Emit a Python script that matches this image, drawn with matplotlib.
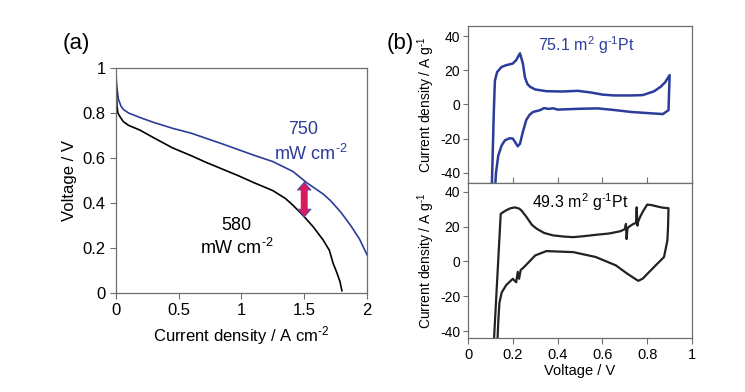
import matplotlib
matplotlib.use('Agg')
import matplotlib.pyplot as plt
import numpy as np

plt.rcParams['font.family'] = ['Liberation Sans', 'DejaVu Sans']
plt.rcParams['axes.unicode_minus'] = False
plt.rcParams['mathtext.fontset'] = 'custom'
plt.rcParams['mathtext.rm'] = 'Liberation Sans'
plt.rcParams['mathtext.default'] = 'regular'

# (a) polarization curves
j_blue = [0, 0.005, 0.01, 0.02, 0.04, 0.06, 0.1, 0.19, 0.3, 0.45, 0.6, 0.72, 0.85,
          0.98, 1.1, 1.25, 1.41, 1.52, 1.65, 1.71, 1.79, 1.87, 1.94, 2.0]
v_blue = [0.97, 0.93, 0.9, 0.86, 0.83, 0.815, 0.80, 0.78, 0.758, 0.732, 0.71, 0.687, 0.662,
          0.636, 0.612, 0.584, 0.54, 0.49, 0.44, 0.41, 0.36, 0.30, 0.24, 0.17]
j_black = [0, 0.004, 0.008, 0.015, 0.03, 0.058, 0.1, 0.19, 0.3, 0.45, 0.6, 0.72, 0.85,
           0.98, 1.1, 1.25, 1.35, 1.41, 1.49, 1.57, 1.65, 1.70, 1.73, 1.76, 1.785, 1.80]
v_black = [0.93, 0.88, 0.83, 0.80, 0.785, 0.762, 0.745, 0.724, 0.69, 0.645, 0.61, 0.58, 0.55,
           0.52, 0.49, 0.455, 0.42, 0.39, 0.345, 0.295, 0.236, 0.19, 0.132, 0.09, 0.05, 0.01]

# (b) cyclic voltammograms, top (blue) and bottom (black)
cv_top_v = [0.105, 0.11, 0.115, 0.12, 0.13, 0.15, 0.17, 0.2, 0.215, 0.232, 0.245, 0.254, 0.265,
            0.277, 0.3, 0.35, 0.42, 0.49, 0.55, 0.6, 0.65, 0.73, 0.78, 0.83, 0.86, 0.88, 0.9,
            0.9, 0.895, 0.87, 0.82, 0.73, 0.65, 0.58, 0.5, 0.4, 0.38, 0.36, 0.34, 0.32, 0.29,
            0.275, 0.26, 0.245, 0.232, 0.222, 0.21, 0.2, 0.185, 0.165, 0.15, 0.135, 0.125, 0.118]
cv_top_i = [-55, -30, -5, 14, 19, 22, 23, 24, 26, 30, 24, 16, 12,
            10.4, 8.8, 7.8, 7.6, 8, 7, 5.8, 5.3, 5.3, 5.5, 7.7, 10.4, 13, 17.2,
            17.2, -3.3, -5.6, -5.2, -4.4, -3.2, -2.3, -2.5, -3, -2.2, -2.6, -2.1, -3.4, -4.4,
            -6, -9.1, -16, -23, -24.5, -22, -20, -19.8, -21, -24, -30, -40, -55]
cv_bot_v = [0.113, 0.146, 0.16, 0.173, 0.19, 0.21, 0.23, 0.24, 0.262, 0.285, 0.307, 0.34,
            0.38, 0.43, 0.47, 0.52, 0.575, 0.63, 0.68, 0.70, 0.705, 0.708, 0.712, 0.72, 0.738,
            0.75, 0.753, 0.756, 0.76, 0.77, 0.783, 0.80, 0.82, 0.845, 0.87, 0.88, 0.895,
            0.895, 0.893, 0.89, 0.875, 0.83, 0.78, 0.76, 0.71, 0.66, 0.57, 0.47, 0.35, 0.30,
            0.25, 0.235, 0.228, 0.222, 0.215, 0.2, 0.17, 0.15, 0.14, 0.135, 0.13]
cv_bot_i = [-52, 27.3, 28.5, 29.5, 30.5, 31, 30.2, 29, 25.3, 21, 18.7, 16.3,
            14.9, 14.2, 13.9, 14.5, 15.3, 16, 17.3, 18.5, 21.5, 12.8, 19, 20, 21.5,
            22, 31, 20.5, 23, 26, 29.1, 32.6, 32.3, 31.5, 30.8, 30.7, 30.5,
            30.5, 20, 12, 2.5, -3.3, -9.9, -11.2, -7, -2.3, 2.5, 5.3, 5.9, 3.4,
            -3.3, -5, -10, -6, -12, -10, -13.7, -18, -24, -35, -50]

blue = '#2b3c9a'
spine_c = '#6e6e6e'
cm2 = r'mW cm$^{\text{-}2}$'

fig = plt.figure(figsize=(7.45, 3.92), dpi=100)

# ---- panel (a)
ax = fig.add_axes([0.1557, 0.2526, 0.3369, 0.5740])
ax.plot(j_blue, v_blue, color=blue, lw=1.2)
ax.plot(j_black, v_black, color='black', lw=1.2)
ax.annotate('', xy=(1.5, 0.335), xytext=(1.5, 0.495),
            arrowprops=dict(arrowstyle='<|-|>,head_length=0.4,head_width=0.35',
                            fc='#d81b60', ec='#3a4aa8', lw=0.6,
                            shrinkA=0, shrinkB=0, mutation_scale=14),
            zorder=5)
ax.annotate('', xy=(1.5, 0.335), xytext=(1.5, 0.495),
            arrowprops=dict(arrowstyle='-', color='#d81b60', lw=5,
                            shrinkA=6, shrinkB=6), zorder=6)
ax.text(1.49, 0.725, '750', color=blue, fontsize=13, ha='center', va='center')
ax.text(1.55, 0.62, cm2, color=blue, fontsize=13, ha='center', va='center')
ax.text(0.96, 0.30, '580', color='black', fontsize=13, ha='center', va='center')
ax.text(0.96, 0.20, cm2, color='black', fontsize=13, ha='center', va='center')
ax.set_xlim(0, 2)
ax.set_ylim(0, 1)
ax.set_xticks([0, 0.5, 1, 1.5, 2])
ax.set_xticklabels(['0', '0.5', '1', '1.5', '2'])
ax.set_yticks([0, 0.2, 0.4, 0.6, 0.8, 1])
ax.set_yticklabels(['0', '0.2', '0.4', '0.6', '0.8', '1'])
ax.set_xlabel(r'Current density / A cm$^{\text{-}2}$', fontsize=12)
ax.set_ylabel('Voltage / V', fontsize=12)
ax.tick_params(direction='out', length=4, labelsize=12, color=spine_c)
for s in ax.spines.values():
    s.set_color(spine_c)
    s.set_linewidth(0.9)
fig.text(0.102, 0.89, '(a)', fontsize=16, ha='center', va='center')

# ---- panel (b)
ax1 = fig.add_axes([0.6282, 0.5332, 0.3007, 0.4005])
ax2 = fig.add_axes([0.6282, 0.1378, 0.3007, 0.3954])
ax1.plot(cv_top_v, cv_top_i, color=blue, lw=1.8)
ax2.plot(cv_bot_v, cv_bot_i, color='#222222', lw=1.6)
ax1.set_ylim(-46, 46)
ax2.set_ylim(-44, 45)
for a in (ax1, ax2):
    a.set_xlim(0, 1)
    a.set_yticks([-40, -20, 0, 20, 40])
    a.set_ylabel(r'Current density / A g$^{\text{-}1}$', fontsize=10)
    a.yaxis.set_label_coords(-0.14, 0.5)
    a.tick_params(axis='y', direction='out', length=3.5, pad=2, labelsize=10, color=spine_c)
    for s in a.spines.values():
        s.set_color(spine_c)
        s.set_linewidth(0.9)
ax1.set_xticks([0.2, 0.4, 0.6, 0.8])
ax1.tick_params(axis='x', direction='in', length=4, labelbottom=False, color=spine_c)
ax2.set_xticks([0, 0.2, 0.4, 0.6, 0.8, 1])
ax2.set_xticklabels(['0', '0.2', '0.4', '0.6', '0.8', '1'])
ax2.tick_params(axis='x', direction='out', length=4, labelsize=10.5, color=spine_c)
ax2.set_xlabel('Voltage / V', fontsize=10.5, labelpad=1)
ax1.text(0.53, 35, r'75.1 m$^{2}$ g$^{\text{-}1}$Pt', color=blue, fontsize=11.5,
         ha='center', va='center')
ax2.text(0.50, 34, r'49.3 m$^{2}$ g$^{\text{-}1}$Pt', color='black', fontsize=11.5,
         ha='center', va='center')
fig.text(0.537, 0.89, '(b)', fontsize=16, ha='center', va='center')

fig.savefig('out.png', dpi=100)
